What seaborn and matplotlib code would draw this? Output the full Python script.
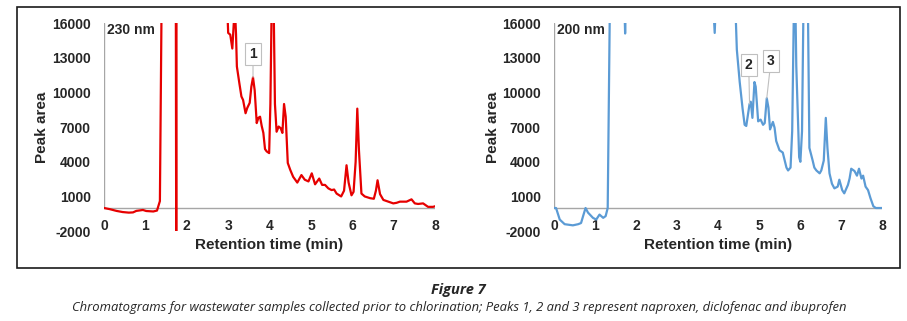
import numpy as np
import pandas as pd
import matplotlib.pyplot as plt
import seaborn as sns
from matplotlib.patches import Rectangle

t_230 = [0.00, 0.14, 0.30, 0.45, 0.60, 0.70, 0.78, 0.94, 1.02, 1.19, 1.28, 1.35, 1.42,
         1.73, 1.745, 1.755, 2.95, 3.00, 3.05, 3.10, 3.16, 3.19, 3.21, 3.27, 3.32, 3.36,
         3.42, 3.46, 3.52, 3.56, 3.60, 3.64, 3.69, 3.73, 3.77, 3.81, 3.85, 3.89, 3.93,
         3.99, 4.02, 4.06, 4.09, 4.13, 4.17, 4.22, 4.27, 4.31, 4.35, 4.39, 4.44, 4.50,
         4.57, 4.67, 4.77, 4.85, 4.94, 5.02, 5.10, 5.20, 5.27, 5.34, 5.42, 5.50, 5.56,
         5.62, 5.73, 5.80, 5.86, 5.91, 5.98, 6.03, 6.08, 6.12, 6.16, 6.22, 6.30, 6.43,
         6.52, 6.57, 6.61, 6.67, 6.75, 6.87, 6.99, 7.07, 7.15, 7.31, 7.43, 7.51, 7.59,
         7.71, 7.83, 7.95, 8.00]
area_230 = [0, -100, -250, -350, -400, -380, -250, -170, -260, -300, -220, 600, 30000,
            30000, -6000, 30000, 20000, 15150, 15000, 13800, 17500, 15000, 12250, 10800, 9650, 9350,
            8200, 8650, 9100, 10500, 11300, 10200, 7350, 7800, 7900, 7100, 6500, 5100, 4900,
            4750, 9000, 20000, 20000, 9000, 6600, 7050, 6900, 6500, 9000, 7900, 3900, 3300,
            2700, 2200, 2850, 2450, 2300, 3000, 2050, 2550, 2000, 2000, 1700, 1550, 1600,
            1250, 1000, 1500, 3700, 2200, 1100, 1400, 4000, 8600, 5000, 1250, 1000, 850,
            800, 1500, 2400, 1200, 700, 550, 400, 450, 550, 550, 750, 400, 350,
            400, 100, 100, 150]

t_200 = [0.00, 0.05, 0.14, 0.26, 0.46, 0.59, 0.66, 0.71, 0.77, 0.83, 0.95, 1.03, 1.11,
         1.20, 1.26, 1.31, 1.37, 1.70, 1.735, 1.77, 3.85, 3.92, 3.97, 4.40, 4.46, 4.53,
         4.60, 4.65, 4.69, 4.77, 4.80, 4.84, 4.89, 4.92, 4.98, 5.04, 5.10, 5.14, 5.19,
         5.23, 5.27, 5.34, 5.38, 5.42, 5.50, 5.58, 5.67, 5.71, 5.77, 5.81, 5.87, 5.91,
         5.98, 6.01, 6.05, 6.10, 6.18, 6.23, 6.27, 6.31, 6.35, 6.40, 6.48, 6.52, 6.58,
         6.63, 6.67, 6.72, 6.78, 6.84, 6.92, 6.96, 7.03, 7.08, 7.17, 7.21, 7.25, 7.33,
         7.39, 7.44, 7.50, 7.54, 7.60, 7.66, 7.72, 7.79, 7.85, 8.00]
area_200 = [0, 0, -1000, -1400, -1500, -1400, -1300, -700, 0, -400, -850, -1000, -570,
            -850, -700, 0, 20000, 20000, 15100, 20000, 20000, 15150, 20000, 20000, 13700, 10900,
            8600, 7200, 7100, 9000, 9200, 7800, 10900, 10500, 7500, 7650, 7200, 7350, 9500,
            8700, 6800, 7450, 6950, 5800, 5000, 4800, 3500, 3250, 3500, 6650, 22000, 12300,
            4400, 4000, 6650, 22000, 22000, 5200, 4650, 4100, 3500, 3250, 3000, 3250, 4100,
            7800, 5200, 3000, 2100, 1700, 1850, 2450, 1550, 1270, 2000, 2550, 3400, 3200,
            2800, 3400, 2550, 2800, 1850, 1550, 850, 150, 0, 0]

y_ticks = [-2000, 1000, 4000, 7000, 10000, 13000, 16000]
x_ticks = [0, 1, 2, 3, 4, 5, 6, 7, 8]

# pics annotés : (étiquette, temps, aire, position de la bulle)
peaks_230 = [("1", 3.60, 11300, 3.60, 13300)]
peaks_200 = [("2", 4.77, 9000, 4.75, 12400), ("3", 5.19, 9500, 5.29, 12700)]

sns.set_style("white")
plt.rcParams['font.family'] = ['Liberation Sans', 'DejaVu Sans']

fig = plt.figure(figsize=(9.07, 3.21), dpi=100)


def panel(rect, t, area, color, wl, peaks):
    ax = fig.add_axes(rect)
    df = pd.DataFrame({'t': t, 'area': area})
    sns.lineplot(data=df, x='t', y='area', ax=ax, color=color, lw=1.6, sort=False)
    ax.set_xlim(0, 8)
    ax.set_ylim(-2000, 16000)
    for s in ax.spines.values():
        s.set_visible(False)
    ax.plot([0, 8], [0, 0], color='#A6A6A6', lw=1, zorder=1)
    ax.plot([0, 0], [0, 16000], color='#A6A6A6', lw=1, zorder=1)
    ax.set_yticks(y_ticks)
    ax.set_yticklabels([str(v) for v in y_ticks], fontweight='bold', fontsize=10)
    ax.set_xticks(x_ticks)
    ax.set_xticklabels([str(v) for v in x_ticks], fontweight='bold', fontsize=10)
    ax.tick_params(axis='y', length=0, pad=9.5)
    ax.tick_params(axis='x', length=0, pad=-9)
    ax.set_xlabel("Retention time (min)", fontweight='bold', fontsize=11)
    ax.set_ylabel("Peak area", fontweight='bold', fontsize=11)
    ax.xaxis.set_label_coords(0.5, -0.035)
    ax.yaxis.set_label_coords(-0.165, 0.5)
    ax.text(0.01, 0.965, wl, transform=ax.transAxes, fontweight='bold',
            fontsize=10, va='center', ha='left')
    for lab, px, py, bx, by in peaks:
        ax.annotate(lab, xy=(px, py), xytext=(bx, by), ha='center', va='center',
                    fontweight='bold', fontsize=10,
                    bbox=dict(boxstyle='square,pad=0.3', fc='white', ec='#BFBFBF', lw=0.8),
                    arrowprops=dict(arrowstyle='-', color='#BFBFBF', lw=0.8,
                                    shrinkA=0, shrinkB=0))
    return ax


panel([0.1147, 0.280, 0.365, 0.648], t_230, area_230, '#E60000', "230 nm", peaks_230)
panel([0.6108, 0.280, 0.3616, 0.648], t_200, area_200, '#5B9BD5', "200 nm", peaks_200)

# cadre autour des deux graphiques
fig.add_artist(Rectangle((0.0187, 0.165), 0.9735, 0.813, transform=fig.transFigure,
                         fill=False, ec='#1a1a1a', lw=1.2))

fig.text(0.505, 0.0966, "Figure 7", ha='center', va='center', fontsize=10.5,
         fontweight='bold', style='italic', family=['Open Sans', 'DejaVu Sans'])
fig.text(0.506, 0.0405,
         "Chromatograms for wastewater samples collected prior to chlorination; "
         "Peaks 1, 2 and 3 represent naproxen, diclofenac and ibuprofen",
         ha='center', va='center', fontsize=9.4, style='italic',
         family=['Open Sans', 'DejaVu Sans'])

plt.savefig('out.png', dpi=100)
